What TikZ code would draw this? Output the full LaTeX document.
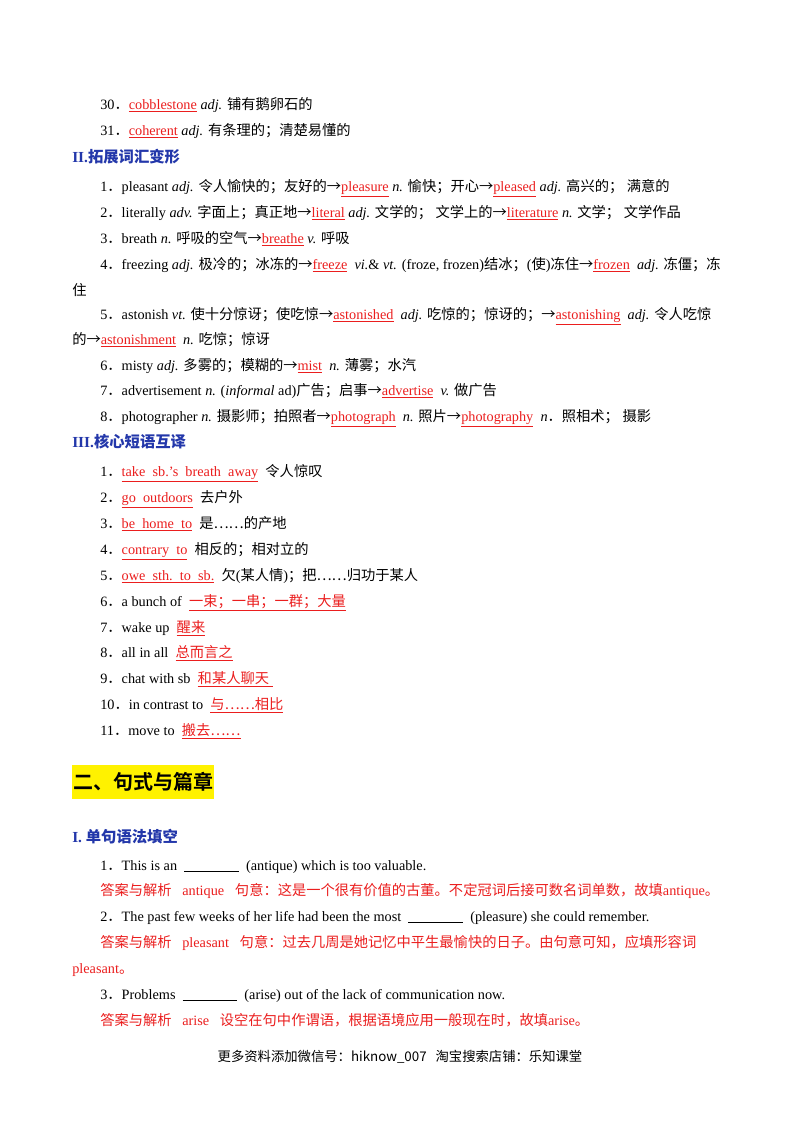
\documentclass[tikz,border=0pt]{standalone}
\usepackage{fontspec}
\setmainfont{Liberation Serif}
\newfontfamily\cjk{Noto Sans CJK SC}
\newfontfamily\cjkb{Noto Sans CJK SC Bold}
\XeTeXinterchartokenstate=1
\newXeTeXintercharclass\cjkclass
\count255="4E00
\loop\XeTeXcharclass\count255=\cjkclass\advance\count255 by 1\ifnum\count255<"A000\repeat
\count255="3000
\loop\XeTeXcharclass\count255=\cjkclass\advance\count255 by 1\ifnum\count255<"3040\repeat
\count255="FF00
\loop\XeTeXcharclass\count255=\cjkclass\advance\count255 by 1\ifnum\count255<"FF70\repeat
\XeTeXcharclass"2026=\cjkclass
\XeTeXcharclass"2192=\cjkclass
\XeTeXinterchartoks 0 \cjkclass = {\cjk}
\XeTeXinterchartoks 4095 \cjkclass = {\cjk}
\XeTeXinterchartoks \cjkclass 0 = {\rmfamily}
\XeTeXinterchartoks \cjkclass 4095 = {\rmfamily}
\newcommand\nointer{\XeTeXinterchartokenstate=0\relax}
\definecolor{hblue}{RGB}{35,55,170}
\definecolor{ared}{RGB}{235,30,30}
\newcommand\ans[1]{{\color{ared}$\underline{\hbox{#1}}$}}
\newcommand\blank{\rule[-1.5pt]{41pt}{0.8pt}}
\begin{document}
\begin{tikzpicture}[x=0.75pt,y=-0.75pt,
  t/.style={anchor=base west,inner sep=0pt,font=\fontsize{10.7}{12}\selectfont},
  h/.style={anchor=base west,inner sep=0pt,font=\fontsize{11.5}{13}\selectfont\bfseries,text=hblue},
  r/.style={t,text=ared}]
\fill[white] (0,0) rectangle (800,1132);
\node[t] (l1) at (100,109) {30．\ans{cobblestone} \textit{adj.} 铺有鹅卵石的};
\node[t] (l2) at (100,135) {31．\ans{coherent} \textit{adj.} 有条理的；清楚易懂的};
\node[h] (h2) at (72,162) {II.拓展词汇变形};
\node[t] (a1) at (100,191) {1．pleasant \textit{adj.} 令人愉快的；友好的→\ans{pleasure} \textit{n.} 愉快；开心→\ans{pleased} \textit{adj.} 高兴的；\ 满意的};
\node[t] (a2) at (100,217) {2．literally \textit{adv.} 字面上；真正地→\ans{literal} \textit{adj.} 文学的；\ 文学上的→\ans{literature} \textit{n.} 文学；\ 文学作品};
\node[t] (a3) at (100,243) {3．breath \textit{n.} 呼吸的空气→\ans{breathe} \textit{v.} 呼吸};
\node[t] (a4) at (100,269) {4．freezing \textit{adj.} 极冷的；冰冻的→\ans{freeze} \ \textit{vi.}\& \textit{vt.} (froze, frozen)结冰；(使)冻住→\ans{frozen} \ \textit{adj.} 冻僵；冻};
\node[t] (a4b) at (72,295) {住};
\node[t] (a5) at (100,319) {5．astonish \textit{vt.} 使十分惊讶；使吃惊→\ans{astonished} \ \textit{adj.} 吃惊的；惊讶的；→\ans{astonishing} \ \textit{adj.} 令人吃惊};
\node[t] (a5b) at (72,344) {的→\ans{astonishment} \ \textit{n.} 吃惊；惊讶};
\node[t] (a6) at (100,370) {6．misty \textit{adj.} 多雾的；模糊的→\ans{mist} \ \textit{n.} 薄雾；水汽};
\node[t] (a7) at (100,395) {7．advertisement \textit{n.} (\textit{informal} ad)广告；启事→\ans{advertise} \ \textit{v.} 做广告};
\node[t] (a8) at (100,421) {8．photographer \textit{n.} 摄影师；拍照者→\ans{photograph} \ \textit{n.} 照片→\ans{photography} \ \textit{n}．照相术；\ 摄影};
\node[h] (h3) at (72,447) {III.核心短语互译};
\node[t] (b1) at (100,476) {1．\ans{take\ \ sb.'s\ \ breath\ \ away} \ 令人惊叹};
\node[t] (b2) at (100,502) {2．\ans{go\ \ outdoors} \ 去户外};
\node[t] (b3) at (100,528) {3．\ans{be\ \ home\ \ to} \ 是……的产地};
\node[t] (b4) at (100,554) {4．\ans{contrary\ \ to} \ 相反的；相对立的};
\node[t] (b5) at (100,580) {5．\ans{owe\ \ sth.\ \ to\ \ sb.} \ 欠(某人情)；把……归功于某人};
\node[t] (b6) at (100,606) {6．a bunch of \ \ans{一束；一串；一群；大量}};
\node[t] (b7) at (100,632) {7．wake up \ \ans{醒来}};
\node[t] (b8) at (100,657) {8．all in all \ \ans{总而言之}};
\node[t] (b9) at (100,683) {9．chat with sb \ \ans{和某人聊天\ }};
\node[t] (b10) at (100,709) {10．in contrast to \ \ans{与……相比}};
\node[t] (b11) at (100,735) {11．move to \ \ans{搬去……}};
\fill[yellow] (72,765) rectangle (214,799);
\node[anchor=base west,inner sep=0pt,font=\fontsize{15}{17}\selectfont\nointer\cjkb] (hs) at (73,789) {二、句式与篇章};
\node[anchor=base west,inner sep=0pt,text=hblue,font=\fontsize{11.5}{13}\selectfont\nointer] (hi) at (72,842) {\bfseries I.\ \cjkb 单句语法填空};
\node[t] (q1) at (100,870) {1．This is an \ \blank\ \ (antique) which is too valuable.};
\node[r] (r1) at (100,895) {答案与解析\ \ \ antique\ \ \ 句意：这是一个很有价值的古董。不定冠词后接可数名词单数，故填antique。};
\node[t] (q2) at (100,921) {2．The past few weeks of her life had been the most \ \blank\ \ (pleasure) she could remember.};
\node[r] (r2) at (100,947) {答案与解析\ \ \ pleasant\ \ \ 句意：过去几周是她记忆中平生最愉快的日子。由句意可知，应填形容词};
\node[r] (r2b) at (72,973) {pleasant。};
\node[t] (q3) at (100,999) {3．Problems \ \blank\ \ (arise) out of the lack of communication now.};
\node[r] (r3) at (100,1025) {答案与解析\ \ \ arise\ \ \ 设空在句中作谓语，根据语境应用一般现在时，故填arise。};
\node[anchor=base,inner sep=0pt,font=\fontsize{10}{12}\selectfont\nointer\cjk] (ft) at (400,1061) {更多资料添加微信号：hiknow\_007\ \ \ 淘宝搜索店铺：乐知课堂};
\end{tikzpicture}
\end{document}
